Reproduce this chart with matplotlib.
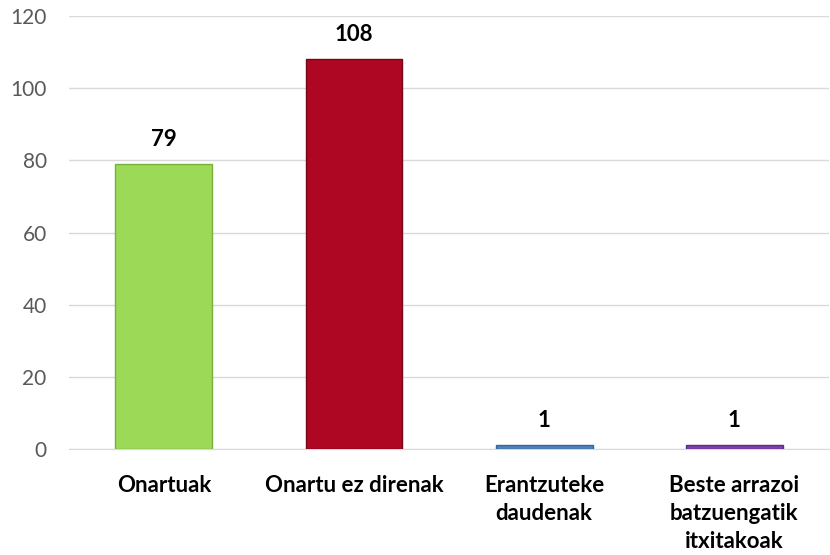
import matplotlib.pyplot as plt
import numpy as np

categories = ['Onartuak', 'Onartu ez direnak', 'Erantzuteke\ndaudenak',
              'Beste arrazoi\nbatzuengatik\nitxitakoak']
values = [79, 108, 1, 1]
colors = ['#9BD957', '#AD0724', '#4F81BD', '#8040B0']
edges = ['#77B03A', '#7A0418', '#3A6699', '#5E2C85']
yticks = [0, 20, 40, 60, 80, 100, 120]

plt.rcParams['font.family'] = ['Lato', 'DejaVu Sans']

fig = plt.figure(figsize=(8.3, 5.55), dpi=100)
ax = fig.add_axes([0.083, 0.191, 0.916, 0.780])

x = np.arange(len(categories))
bars = ax.bar(x, values, width=0.51, color=colors, edgecolor=edges,
              linewidth=1.0, zorder=3)

for xi, v in zip(x, values):
    ax.text(xi, v + 4, str(v), ha='center', va='bottom',
            fontsize=16, fontweight='bold', color='black')

ax.set_xlim(-0.5, len(categories) - 0.5)
ax.set_ylim(0, 120)
ax.set_yticks(yticks)
ax.grid(axis='y', color='#D9D9D9', linewidth=1.0, zorder=0)
ax.set_axisbelow(True)
for s in ['top', 'right', 'left']:
    ax.spines[s].set_visible(False)
ax.spines['bottom'].set_color('#D9D9D9')
ax.tick_params(axis='y', length=0, labelsize=15, labelcolor='#595959', pad=16)
ax.tick_params(axis='x', length=0, pad=19)
ax.set_xticks(x)
ax.set_xticklabels(categories, fontsize=16, fontweight='bold', va='top',
                   linespacing=1.4)

fig.savefig('out.png', dpi=100)
